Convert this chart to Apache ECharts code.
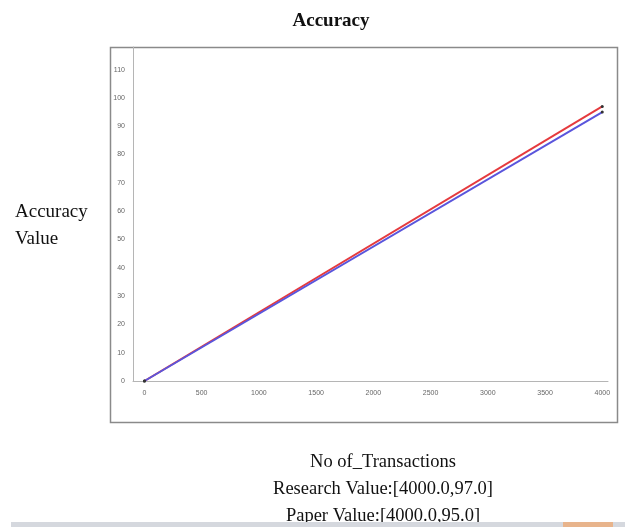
<!DOCTYPE html>
<html>
<head>
<meta charset="utf-8">
<script src="https://cdn.jsdelivr.net/npm/echarts@6/dist/echarts.min.js"></script>
<style>
  html, body { margin: 0; padding: 0; background: #fff; }
  #chart { width: 625px; height: 527px; }
</style>
</head>
<body>
<div id="chart"></div>
<script>
// transactions on x, accuracy on y
var transactions = [0, 4000];
var researchValues = [0, 97];
var paperValues = [0, 95];
var bottomLines = ['No of_Transactions', 'Research Value:[4000.0,97.0]', 'Paper Value:[4000.0,95.0]'];

function pairs(xs, ys) {
  var out = [];
  for (var i = 0; i < xs.length; i++) out.push([xs[i], ys[i]]);
  return out;
}

var chart = echarts.init(document.getElementById('chart'));
var serif = '"Liberation Serif", "DejaVu Serif", serif';

var option = {
  animation: false,
  title: {
    text: 'Accuracy',
    left: 326,
    top: 7,
    textAlign: 'center',
    textStyle: { fontFamily: serif, fontSize: 19, fontWeight: 'bold', color: '#111' }
  },
  grid: { left: 133, right: 17, top: 47, bottom: 146 },
  xAxis: {
    type: 'value',
    min: -100,
    max: 4050,
    interval: 50,
    axisLine: { onZero: false, lineStyle: { color: '#b5b5b5', width: 1 } },
    axisTick: { show: false },
    splitLine: { show: false },
    axisLabel: {
      color: '#666',
      fontSize: 7,
      fontFamily: 'Arial, "Liberation Sans", sans-serif',
      margin: 9,
      formatter: function (v) { return (v >= 0 && v % 500 === 0) ? String(v) : ''; }
    }
  },
  yAxis: {
    type: 'value',
    min: 0,
    max: 118,
    interval: 10,
    axisLine: { show: true, onZero: false, lineStyle: { color: '#b5b5b5', width: 1 } },
    axisTick: { show: false },
    splitLine: { show: false },
    axisLabel: {
      color: '#666',
      fontSize: 7,
      fontFamily: 'Arial, "Liberation Sans", sans-serif',
      margin: 8,
      showMaxLabel: false
    }
  },
  series: [
    {
      name: 'Research',
      type: 'line',
      data: pairs(transactions, researchValues),
      lineStyle: { color: '#e53a3e', width: 2 },
      itemStyle: { color: '#333' },
      symbol: 'circle',
      symbolSize: 3
    },
    {
      name: 'Paper',
      type: 'line',
      data: pairs(transactions, paperValues),
      lineStyle: { color: '#5a55dc', width: 2 },
      itemStyle: { color: '#333' },
      symbol: 'circle',
      symbolSize: 3
    }
  ],
  graphic: [
    {
      type: 'rect',
      shape: { x: 110.5, y: 47.5, width: 507, height: 375 },
      style: { fill: 'none', stroke: '#8a8a8a', lineWidth: 1.5 },
      z: -1
    },
    {
      type: 'text',
      left: 15,
      top: 199,
      style: { text: 'Accuracy\nValue', font: '19px ' + serif, fill: '#111', lineHeight: 27 }
    },
    {
      type: 'text',
      x: 383,
      y: 449,
      style: { text: bottomLines.join('\n'), font: '18.5px ' + serif, fill: '#111', lineHeight: 27, align: 'center', verticalAlign: 'top' }
    },
    {
      type: 'rect',
      shape: { x: 11, y: 522, width: 614, height: 5 },
      style: { fill: '#d5d8de' },
      z: 10
    },
    {
      type: 'rect',
      shape: { x: 563, y: 522, width: 50, height: 5 },
      style: { fill: '#e8b48c' },
      z: 11
    }
  ]
};

chart.setOption(option);
</script>
</body>
</html>
